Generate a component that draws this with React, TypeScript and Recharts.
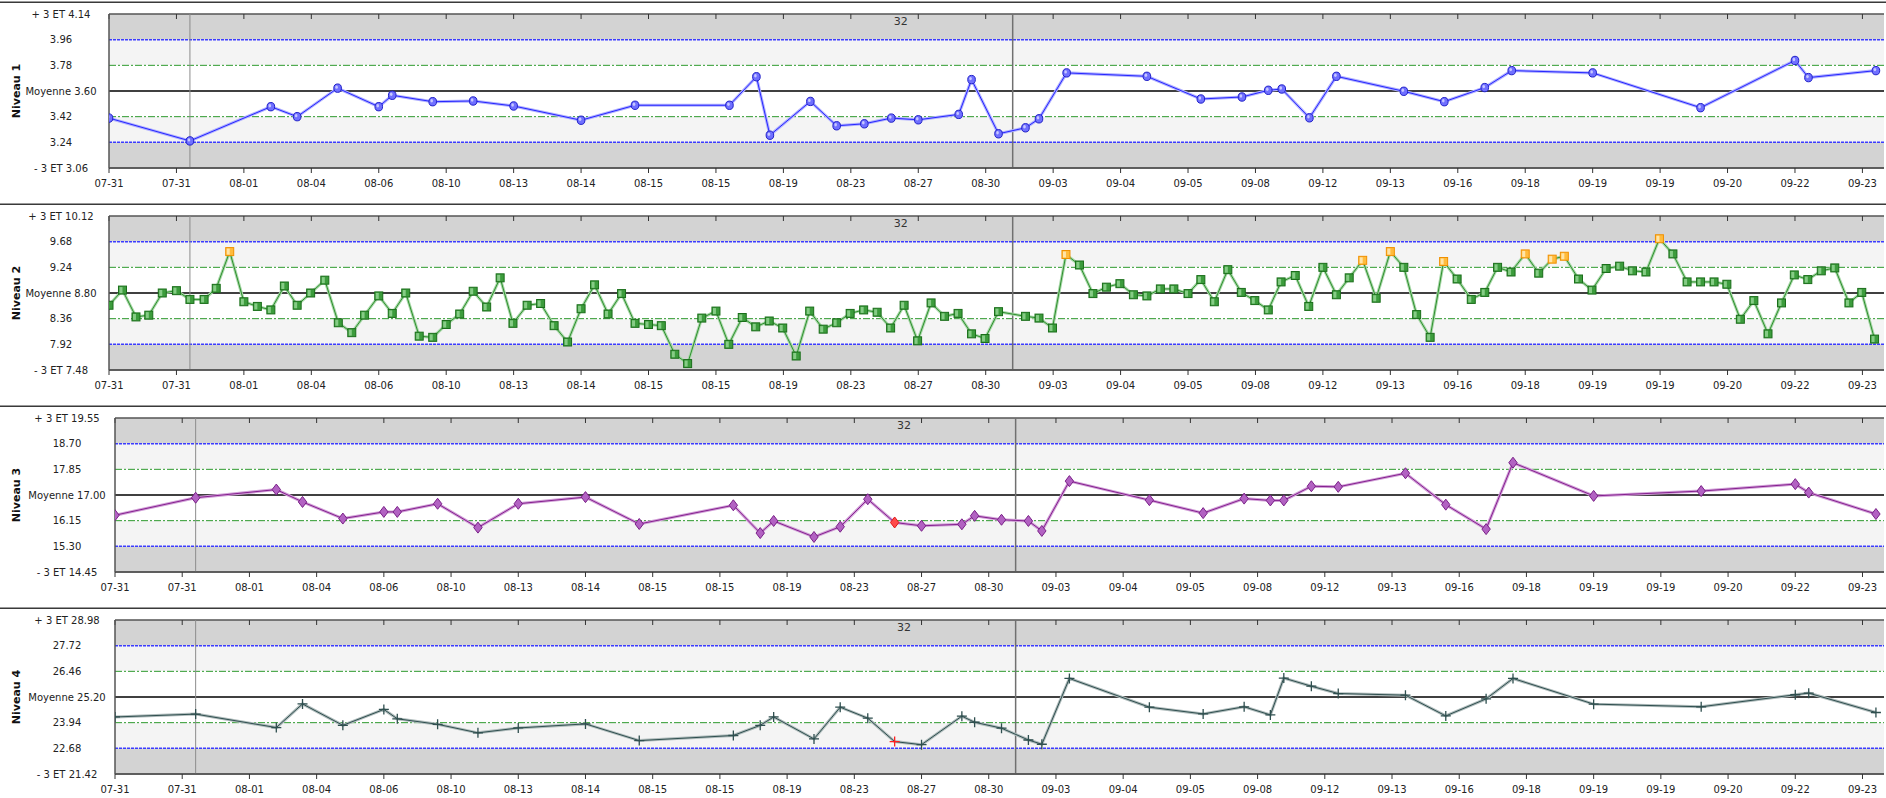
import React from 'react';
import { ComposedChart, Line, XAxis, YAxis, ReferenceArea, ReferenceLine } from 'recharts';

// ---------- data ----------
const tickLabels = ['07-31', '07-31', '08-01', '08-04', '08-06', '08-10', '08-13', '08-14', '08-15', '08-15', '08-19', '08-23', '08-27', '08-30', '09-03', '09-04', '09-05', '09-08', '09-12', '09-13', '09-16', '09-18', '09-19', '09-19', '09-20', '09-22', '09-23'];

// run positions (in tick units) shared by levels 1, 3 and 4
const runPos = [0, 1.2, 2.4, 2.79, 3.39, 4.0, 4.2, 4.8, 5.4, 6.0, 7.0, 7.8, 9.2, 9.6, 9.8, 10.4, 10.79, 11.2, 11.6, 12.0, 12.6, 12.79, 13.19, 13.59, 13.79, 14.2, 15.39, 16.19, 16.8, 17.19, 17.39, 17.8, 18.2, 19.2, 19.8, 20.4, 20.8, 22.0, 23.6, 25.0, 25.2, 26.2];

const n1Values = [3.41, 3.25, 3.49, 3.42, 3.62, 3.49, 3.57, 3.525, 3.53, 3.495, 3.395, 3.5, 3.5, 3.7, 3.29, 3.527, 3.356, 3.37, 3.41, 3.398, 3.436, 3.68, 3.3, 3.342, 3.405, 3.727, 3.703, 3.544, 3.558, 3.605, 3.614, 3.412, 3.703, 3.598, 3.525, 3.624, 3.743, 3.727, 3.483, 3.814, 3.694, 3.743];

const n2Pos = [0, 0.2, 0.4, 0.59, 0.79, 1.0, 1.2, 1.41, 1.59, 1.79, 2.0, 2.2, 2.4, 2.6, 2.79, 2.99, 3.2, 3.4, 3.6, 3.79, 4.0, 4.2, 4.4, 4.6, 4.8, 5.0, 5.2, 5.4, 5.6, 5.8, 5.99, 6.2, 6.4, 6.6, 6.8, 7.0, 7.2, 7.4, 7.6, 7.8, 8.0, 8.19, 8.39, 8.58, 8.79, 9.0, 9.19, 9.39, 9.59, 9.79, 9.99, 10.19, 10.39, 10.59, 10.79, 10.99, 11.19, 11.39, 11.59, 11.79, 11.99, 12.19, 12.39, 12.59, 12.79, 12.99, 13.19, 13.59, 13.79, 13.99, 14.19, 14.39, 14.59, 14.79, 14.99, 15.19, 15.39, 15.59, 15.79, 16.0, 16.19, 16.39, 16.59, 16.79, 16.99, 17.19, 17.38, 17.59, 17.79, 18.0, 18.2, 18.39, 18.59, 18.79, 19.0, 19.2, 19.39, 19.59, 19.79, 19.99, 20.2, 20.4, 20.59, 20.79, 21.0, 21.2, 21.4, 21.58, 21.79, 21.99, 22.2, 22.4, 22.59, 22.79, 22.99, 23.19, 23.4, 23.6, 23.8, 23.99, 24.19, 24.39, 24.6, 24.8, 24.99, 25.19, 25.39, 25.59, 25.8, 25.99, 26.18];

const n2Values = [8.59, 8.85, 8.39, 8.42, 8.8, 8.84, 8.69, 8.69, 8.88, 9.51, 8.65, 8.57, 8.51, 8.92, 8.59, 8.8, 9.02, 8.29, 8.12, 8.42, 8.75, 8.45, 8.8, 8.06, 8.04, 8.26, 8.44, 8.83, 8.56, 9.06, 8.28, 8.59, 8.62, 8.24, 7.96, 8.53, 8.94, 8.44, 8.79, 8.28, 8.26, 8.24, 7.75, 7.59, 8.37, 8.49, 7.92, 8.38, 8.22, 8.32, 8.2, 7.72, 8.49, 8.18, 8.29, 8.45, 8.51, 8.47, 8.2, 8.59, 7.98, 8.63, 8.4, 8.45, 8.1, 8.02, 8.48, 8.4, 8.37, 8.2, 9.46, 9.28, 8.79, 8.9, 8.96, 8.77, 8.75, 8.87, 8.87, 8.79, 9.03, 8.65, 9.2, 8.81, 8.67, 8.51, 8.99, 9.1, 8.57, 9.24, 8.77, 9.06, 9.36, 8.71, 9.51, 9.24, 8.43, 8.04, 9.34, 9.04, 8.69, 8.81, 9.24, 9.16, 9.47, 9.14, 9.38, 9.43, 9.04, 8.85, 9.22, 9.26, 9.18, 9.16, 9.73, 9.47, 8.99, 8.99, 8.99, 8.95, 8.35, 8.67, 8.1, 8.63, 9.11, 9.03, 9.18, 9.23, 8.63, 8.81, 8.01];
const n2Warnings = [9, 70, 92, 94, 98, 104, 106, 107, 114];

const n3Values = [16.33, 16.91, 17.18, 16.77, 16.22, 16.44, 16.44, 16.71, 15.92, 16.71, 16.93, 16.04, 16.66, 15.74, 16.14, 15.61, 15.95, 16.86, 16.09, 15.98, 16.03, 16.31, 16.18, 16.14, 15.81, 17.46, 16.83, 16.4, 16.88, 16.82, 16.82, 17.29, 17.27, 17.72, 16.68, 15.87, 18.07, 16.97, 17.13, 17.36, 17.08, 16.37];
const n3Rejects = [18];

const n4Values = [24.22, 24.36, 23.7, 24.86, 23.81, 24.59, 24.13, 23.86, 23.44, 23.68, 23.88, 23.06, 23.31, 23.81, 24.22, 23.14, 24.7, 24.16, 23.01, 22.86, 24.26, 23.96, 23.67, 23.09, 22.88, 26.11, 24.7, 24.37, 24.72, 24.32, 26.13, 25.73, 25.37, 25.29, 24.27, 25.11, 26.11, 24.85, 24.72, 25.31, 25.39, 24.44];
const n4Rejects = [18];

const levelNames = ['Niveau 1', 'Niveau 2', 'Niveau 3', 'Niveau 4'];
const levelMeans = [3.6, 8.8, 17.0, 25.2];
const levelSDs = [0.18, 0.44, 0.85, 1.26];
const lotLabel = '32';
const lotLabelPos = 11.74;
const markerLines = [1.2, 13.4];

// ---------- layout / styles ----------
const W = 1886;
const PANEL_H = 202;
const PLOT_H = 154;
const X_MAX = 26.32;
const FONT = '"DejaVu Sans", Verdana, sans-serif';
const MARGIN = { top: 14, right: 2, bottom: 0, left: 0 };
const TOP_TICK_PX = 5;

type Kind = 'circle' | 'square' | 'diamond' | 'cross';

const panelDefs = [
  { name: levelNames[0], xs: runPos, ys: n1Values, flags: [] as number[], kind: 'circle' as Kind, plotLeft: 109, line: '#2626ff', halo: '#b0b0ff', fill: '#7070ff', stroke: '#2020c8', fill2: '#ff4040', stroke2: '#d01010' },
  { name: levelNames[1], xs: n2Pos, ys: n2Values, flags: n2Warnings, kind: 'square' as Kind, plotLeft: 109, line: '#2e8f2e', halo: '#a8d8a8', fill: '#3c9c3c', stroke: '#1a6e1a', fill2: '#ffbb3c', stroke2: '#f09000' },
  { name: levelNames[2], xs: runPos, ys: n3Values, flags: n3Rejects, kind: 'diamond' as Kind, plotLeft: 115, line: '#85208f', halo: '#d2a0d8', fill: '#b262c2', stroke: '#7a2088', fill2: '#ff4a4a', stroke2: '#e01818' },
  { name: levelNames[3], xs: runPos, ys: n4Values, flags: n4Rejects, kind: 'cross' as Kind, plotLeft: 115, line: '#2f4f4f', halo: '#b0bcbc', fill: '#2f4f4f', stroke: '#2f4f4f', fill2: '#ff2020', stroke2: '#ff2020' },
];

const tickIdx = tickLabels.map((_, i) => i);

function makeDot(p: any) {
  return (props: any) => {
    const { cx, cy, payload, index } = props;
    const key = `dot-${index}`;
    if (cx == null || cy == null || isNaN(cx) || isNaN(cy)) return <g key={key} />;
    const sp = payload && payload.flag;
    const fill = sp ? p.fill2 : p.fill;
    const stroke = sp ? p.stroke2 : p.stroke;
    if (p.kind === 'circle') {
      return (
        <g key={key}>
          <ellipse cx={cx} cy={cy} rx={3.8} ry={4.2} fill={fill} stroke={stroke} strokeWidth={1} />
          <ellipse cx={cx - 1} cy={cy - 1} rx={1.3} ry={1.7} fill="#c8c8ff" />
        </g>
      );
    }
    if (p.kind === 'square') {
      return (
        <g key={key}>
          <rect x={cx - 4} y={cy - 4} width={8} height={8} fill={fill} stroke={stroke} strokeWidth={1} />
          <rect x={cx - 3} y={cy - 3} width={3} height={6} fill={sp ? '#ffe4a8' : '#86cc86'} />
        </g>
      );
    }
    if (p.kind === 'diamond') {
      return (
        <g key={key}>
          <polygon points={`${cx},${cy - 5.5} ${cx + 4.2},${cy} ${cx},${cy + 5.5} ${cx - 4.2},${cy}`} fill={fill} stroke={stroke} strokeWidth={1} />
        </g>
      );
    }
    return (
      <g key={key}>
        <path d={`M${cx - 5},${cy}H${cx + 5}M${cx},${cy - 5}V${cy + 5}`} stroke={stroke} strokeWidth={1.3} fill="none" />
      </g>
    );
  };
}

function makeYTick(mean: number) {
  return (props: any) => {
    const { x, y, payload, index } = props;
    const v = Number(payload.value);
    let label = v.toFixed(2);
    if (index === 0) label = `- 3 ET ${v.toFixed(2)}`;
    else if (index === 6) label = `+ 3 ET ${v.toFixed(2)}`;
    else if (Math.abs(v - mean) < 1e-6) label = `Moyenne ${v.toFixed(2)}`;
    return (
      <text key={`yt-${index}`} x={x - 48} y={y} dy="0.35em" textAnchor="middle" fontSize={10} fontFamily={FONT} fill="#222">
        {label}
      </text>
    );
  };
}

function Panel({ idx }: { idx: number }) {
  const p = panelDefs[idx];
  const m = levelMeans[idx];
  const s = levelSDs[idx];
  const yTicks = [-3, -2, -1, 0, 1, 2, 3].map((k) => m + k * s);
  const yTop = yTicks[6];
  const tickLen = ((yTicks[6] - yTicks[0]) * TOP_TICK_PX) / PLOT_H;
  const data = p.xs.map((x, i) => ({ x, v: p.ys[i], flag: p.flags.includes(i) }));
  const top = idx * PANEL_H;
  return (
    <div style={{ position: 'absolute', left: 0, top, width: W, height: PANEL_H }}>
      <ComposedChart width={W} height={PANEL_H} data={data} margin={MARGIN}>
        <ReferenceArea y1={yTicks[5]} y2={yTicks[6]} fill="#d3d3d3" fillOpacity={1} stroke="none" />
        <ReferenceArea y1={yTicks[4]} y2={yTicks[5]} fill="#f4f4f4" fillOpacity={1} stroke="none" />
        <ReferenceArea y1={yTicks[2]} y2={yTicks[4]} fill="#ffffff" fillOpacity={1} stroke="none" />
        <ReferenceArea y1={yTicks[1]} y2={yTicks[2]} fill="#f4f4f4" fillOpacity={1} stroke="none" />
        <ReferenceArea y1={yTicks[0]} y2={yTicks[1]} fill="#d3d3d3" fillOpacity={1} stroke="none" />
        <ReferenceLine y={yTicks[5]} stroke="#3c3cff" strokeWidth={1.5} strokeDasharray="3 1" />
        <ReferenceLine y={yTicks[1]} stroke="#3c3cff" strokeWidth={1.5} strokeDasharray="3 1" />
        <ReferenceLine y={yTicks[4]} stroke="#2e9a2e" strokeWidth={1} strokeDasharray="7 2 2 2" />
        <ReferenceLine y={yTicks[2]} stroke="#2e9a2e" strokeWidth={1} strokeDasharray="7 2 2 2" />
        <ReferenceLine y={m} stroke="#000" strokeWidth={1.5} />
        <ReferenceLine y={yTop} stroke="#555" strokeWidth={1.5} />
        <ReferenceLine y={yTicks[0]} stroke="#555" strokeWidth={1.5} />
        {tickIdx.map((t) => (
          <ReferenceLine
            key={`tt-${t}`}
            segment={[
              { x: t, y: yTop },
              { x: t, y: yTop - tickLen },
            ]}
            stroke="#333"
            strokeWidth={1}
          />
        ))}
        <ReferenceLine x={markerLines[0]} stroke="#8c8c8c" strokeWidth={1} />
        <ReferenceLine x={markerLines[1]} stroke="#707070" strokeWidth={1.5} />
        <ReferenceLine
          x={lotLabelPos}
          stroke="none"
          strokeOpacity={0}
          label={{ value: lotLabel, position: 'insideTop', offset: 3, fill: '#333', fontSize: 11, fontFamily: FONT }}
        />
        <XAxis
          dataKey="x"
          type="number"
          domain={[0, X_MAX]}
          ticks={tickIdx}
          interval={0}
          allowDataOverflow
          tickFormatter={(i: number) => tickLabels[i] ?? ''}
          height={34}
          tickSize={5}
          tickMargin={7}
          axisLine={{ stroke: '#555', strokeWidth: 1.5 }}
          tickLine={{ stroke: '#333' }}
          tick={{ fontSize: 10, fill: '#222', fontFamily: FONT }}
        />
        <YAxis
          type="number"
          domain={[yTicks[0], yTicks[6]]}
          ticks={yTicks}
          interval={0}
          allowDataOverflow
          width={p.plotLeft}
          tickSize={0}
          tickMargin={0}
          tickLine={false}
          axisLine={{ stroke: '#555', strokeWidth: 1.5 }}
          tick={makeYTick(m)}
        />
        <Line type="linear" dataKey="v" stroke={p.halo} strokeWidth={3} dot={false} activeDot={false} isAnimationActive={false} />
        <Line type="linear" dataKey="v" stroke={p.line} strokeWidth={1} dot={makeDot(p)} activeDot={false} isAnimationActive={false} />
      </ComposedChart>
      <div
        style={{
          position: 'absolute',
          left: 16,
          top: 14 + 77,
          transform: 'translate(-50%, -50%) rotate(-90deg)',
          font: `bold 11px ${FONT}`,
          color: '#111',
          whiteSpace: 'nowrap',
        }}
      >
        {p.name}
      </div>
    </div>
  );
}

const sepTops = [0, 202, 404, 606];

export default function App() {
  return (
    <div style={{ position: 'absolute', left: 0, top: 0, width: W, height: 798, background: '#fff', overflow: 'hidden', fontFamily: FONT }}>
      {[0, 1, 2, 3].map((i) => (
        <Panel key={i} idx={i} />
      ))}
      {sepTops.map((t, i) => (
        <div key={`sep-${i}`} style={{ position: 'absolute', left: 0, top: t + 1, width: W, height: 0, borderTop: '1px solid #9a9a9a', borderBottom: '1px solid #3a3a3a' }} />
      ))}
    </div>
  );
}
